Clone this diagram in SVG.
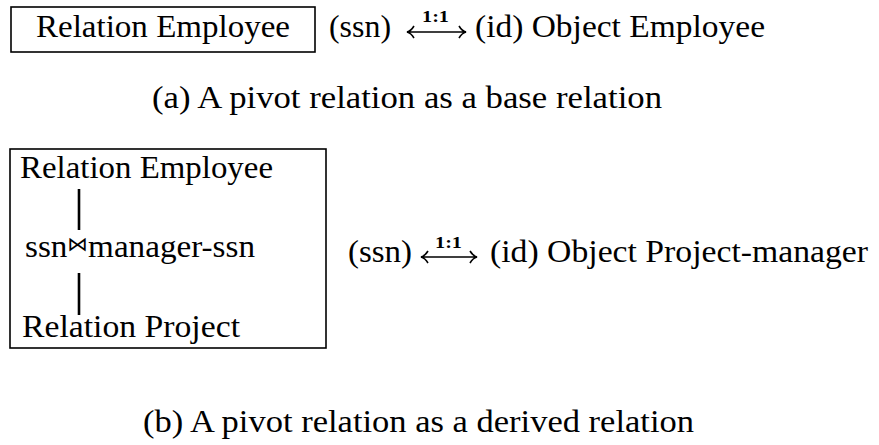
<svg xmlns="http://www.w3.org/2000/svg" width="879" height="445" viewBox="0 0 879 445">
<style>
text{font-family:"Liberation Serif","DejaVu Serif",serif;fill:#000}
.t{font-size:32px}
.s{font-size:16px;font-weight:bold}
.box{fill:none;stroke:#000;stroke-width:1.6}
.ln{stroke:#000;stroke-width:1.6;fill:none}
.vl{stroke:#000;stroke-width:2.6}
</style>
<rect width="879" height="445" fill="#fff"/>
<g id="relation-employee-a">
<rect class="box" x="11" y="7" width="304" height="45"/>
<text class="t" x="36" y="37" textLength="254" lengthAdjust="spacingAndGlyphs">Relation Employee</text>
</g>
<g id="object-employee">
<text class="t" x="329" y="37" textLength="62" lengthAdjust="spacingAndGlyphs">(ssn)</text>
<text class="t" x="475" y="37" textLength="290" lengthAdjust="spacingAndGlyphs">(id) Object Employee</text>
</g>
<g id="derived-relation">
<rect class="box" x="10" y="149" width="316" height="199"/>
<text class="t" x="20" y="178" textLength="253" lengthAdjust="spacingAndGlyphs">Relation Employee</text>
<text class="t" x="25" y="257" textLength="230" lengthAdjust="spacingAndGlyphs">ssn<tspan font-family="DejaVu Sans" font-size="20" dy="-6">⋈</tspan><tspan dy="6">manager-ssn</tspan></text>
<text class="t" x="22" y="337" textLength="218" lengthAdjust="spacingAndGlyphs">Relation Project</text>
</g>
<g id="object-project-manager">
<text class="t" x="348" y="262" textLength="64" lengthAdjust="spacingAndGlyphs">(ssn)</text>
<text class="t" x="490" y="262" textLength="378" lengthAdjust="spacingAndGlyphs">(id) Object Project-manager</text>
</g>
<g id="connectors">
<line class="vl" x1="79" y1="189" x2="79" y2="230"/>
<line class="vl" x1="79" y1="273" x2="79" y2="315"/>
<path class="ln" d="M407 32 H466 M414 26 Q411 31 407 32 Q411 33 414 38 M459 26 Q462 31 466 32 Q462 33 459 38"/>
<text class="s" x="422" y="22" textLength="27" lengthAdjust="spacingAndGlyphs">1:1</text>
<path class="ln" d="M421 257 H477 M428 251 Q425 256 421 257 Q425 258 428 263 M470 251 Q473 256 477 257 Q473 258 470 263"/>
<text class="s" x="435" y="248" textLength="27" lengthAdjust="spacingAndGlyphs">1:1</text>
</g>
<g id="captions">
<text class="t" x="152" y="108" textLength="510" lengthAdjust="spacingAndGlyphs">(a) A pivot relation as a base relation</text>
<text class="t" x="143" y="432" textLength="551" lengthAdjust="spacingAndGlyphs">(b) A pivot relation as a derived relation</text>
</g>
</svg>
